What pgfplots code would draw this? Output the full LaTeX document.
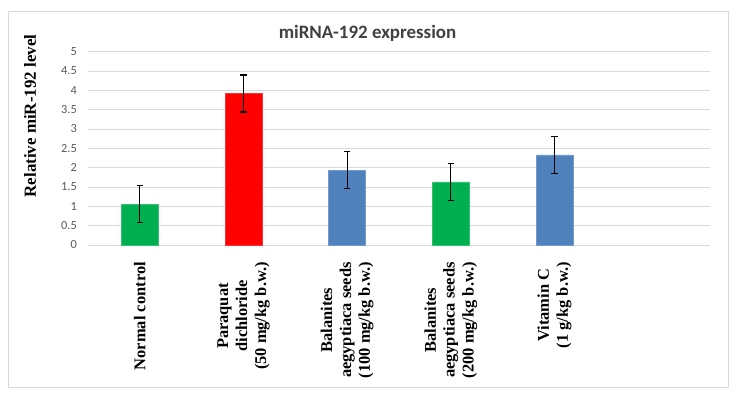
\documentclass[border=0pt]{standalone}
\usepackage{pgfplots}
\pgfplotsset{compat=1.18}
\usepackage{fontspec}
\setmainfont{Liberation Serif}
\newfontfamily\calibri{Carlito}
\definecolor{mygreen}{HTML}{00B050}
\definecolor{myred}{HTML}{FF0000}
\definecolor{myblue}{HTML}{4F81BD}
\definecolor{txtgray}{HTML}{595959}
\definecolor{titlegray}{HTML}{404040}
\definecolor{gridgray}{HTML}{D9D9D9}
\begin{document}
\begin{tikzpicture}[x=1bp,y=1bp]
\path[use as bounding box] (0,0) rectangle (738,398);
\draw[draw=gridgray, line width=1bp] (8,11) rectangle (728,386);
\node[font=\calibri\bfseries\fontsize{19}{22}\selectfont, text=titlegray] at (367.5,365) {miRNA-192 expression};
\node[font=\bfseries\fontsize{17}{19}\selectfont, rotate=90] at (30,282) {Relative miR-192 level};
\begin{axis}[
  at={(88bp,153bp)}, anchor=south west,
  scale only axis, width=622bp, height=193.3bp,
  xmin=-0.5, xmax=5.5, ymin=0, ymax=5,
  ytick={0,0.5,1,1.5,2,2.5,3,3.5,4,4.5,5},
  yticklabels={0,0.5,1,1.5,2,2.5,3,3.5,4,4.5,5},
  xtick={0,1,2,3,4},
  xticklabels={{Normal control},{Paraquat\\dichloride\\(50 mg/kg b.w.)},{Balanites\\aegyptiaca seeds\\(100 mg/kg b.w.)},{Balanites\\aegyptiaca seeds\\(200 mg/kg b.w.)},{Vitamin C\\(1 g/kg b.w.)}},
  xticklabel style={rotate=90, anchor=east, align=center, font=\bfseries\fontsize{16.5}{19}\selectfont, inner sep=0pt, xshift=-17bp},
  yticklabel style={font=\calibri\fontsize{12.4}{14}\selectfont, text=txtgray, inner sep=0pt, xshift=-11bp},
  axis line style={draw=none},
  major tick length=0,
  ymajorgrids, grid style={gridgray, line width=1bp},
  bar width=37bp,
  clip=false,
]
\addplot[ybar, bar shift=0, fill=mygreen, draw=mygreen!80!white, error bars/.cd, y dir=both, y explicit, error bar style={black, line width=1.3bp}, error mark options={rotate=90, mark size=3.2bp, line width=1.3bp, black}]
  coordinates {(0,1.06) +- (0,0.48) (3,1.63) +- (0,0.47)};
\addplot[ybar, bar shift=0, fill=myred, draw=myred!80!white, error bars/.cd, y dir=both, y explicit, error bar style={black, line width=1.3bp}, error mark options={rotate=90, mark size=3.2bp, line width=1.3bp, black}]
  coordinates {(1,3.92) +- (0,0.48)};
\addplot[ybar, bar shift=0, fill=myblue, draw=myblue!80!white, error bars/.cd, y dir=both, y explicit, error bar style={black, line width=1.3bp}, error mark options={rotate=90, mark size=3.2bp, line width=1.3bp, black}]
  coordinates {(2,1.94) +- (0,0.48) (4,2.33) +- (0,0.48)};
\end{axis}
\end{tikzpicture}
\end{document}
